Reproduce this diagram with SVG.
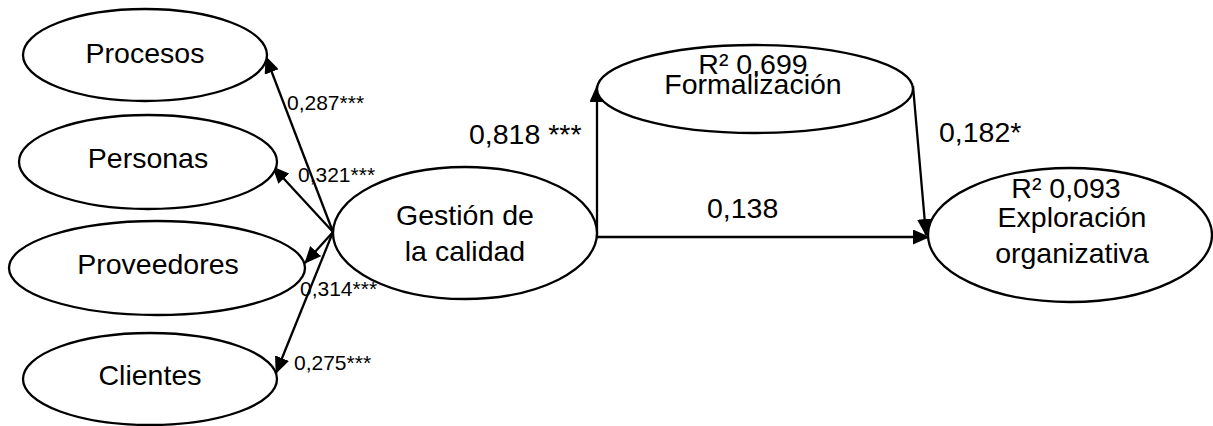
<svg xmlns="http://www.w3.org/2000/svg" width="1213" height="426" viewBox="0 0 1213 426">
  <defs>
    <style>
      .node ellipse { fill: #ffffff; stroke: #000000; stroke-width: 2.3; }
      .lbl { font-family: "Liberation Sans", Arial, sans-serif; font-size: 28.5px; fill: #000000; text-anchor: middle; }
      .coef { font-family: "Liberation Sans", Arial, sans-serif; font-size: 28.5px; fill: #000000; }
      .coef-s { font-family: "Liberation Sans", Arial, sans-serif; font-size: 21px; fill: #000000; }
      .edge { fill: none; stroke: #000000; stroke-width: 2.3; marker-end: url(#arrow); }
    </style>
    <marker id="arrow" markerUnits="userSpaceOnUse" markerWidth="17" markerHeight="15" viewBox="0 0 17 15" refX="16" refY="7.5" orient="auto">
      <path d="M0,0 L17,7.5 L0,15 Z" fill="#000000"/>
    </marker>
  </defs>

  <rect width="1213" height="426" fill="#ffffff"/>

  <!-- connectors -->
  <g id="connectors">
    <line class="edge" x1="333" y1="232" x2="266" y2="57"/>
    <line class="edge" x1="333" y1="232" x2="273" y2="167"/>
    <line class="edge" x1="333" y1="232" x2="305" y2="263"/>
    <line class="edge" x1="333" y1="232" x2="276" y2="373"/>
    <line class="edge" x1="597" y1="237" x2="597" y2="86"/>
    <line class="edge" x1="596" y1="237" x2="929" y2="237"/>
    <line class="edge" x1="913" y1="86" x2="926" y2="235"/>
  </g>

  <!-- indicator constructs -->
  <g id="procesos" class="node">
    <ellipse cx="145" cy="55" rx="122" ry="46"/>
    <text class="lbl" x="145" y="63">Procesos</text>
  </g>
  <g id="personas" class="node">
    <ellipse cx="148" cy="162" rx="129" ry="47"/>
    <text class="lbl" x="148" y="168">Personas</text>
  </g>
  <g id="proveedores" class="node">
    <ellipse cx="157" cy="268" rx="148" ry="47"/>
    <text class="lbl" x="158" y="274">Proveedores</text>
  </g>
  <g id="clientes" class="node">
    <ellipse cx="150" cy="379" rx="127" ry="46"/>
    <text class="lbl" x="150" y="385">Clientes</text>
  </g>

  <!-- quality management -->
  <g id="gestion" class="node">
    <ellipse cx="465" cy="233" rx="132" ry="66"/>
    <text class="lbl" x="465" y="225">Gestión de</text>
    <text class="lbl" x="465" y="261">la calidad</text>
  </g>

  <!-- formalization -->
  <g id="formalizacion" class="node">
    <ellipse cx="755" cy="89" rx="158" ry="44"/>
    <text class="lbl" x="753" y="74">R² 0,699</text>
    <text class="lbl" x="753" y="94">Formalización</text>
  </g>

  <!-- organizational exploration -->
  <g id="exploracion" class="node">
    <ellipse cx="1070" cy="235" rx="142" ry="67"/>
    <text class="lbl" x="1066" y="198">R² 0,093</text>
    <text class="lbl" x="1072" y="227">Exploración</text>
    <text class="lbl" x="1072" y="263">organizativa</text>
  </g>

  <!-- path coefficients -->
  <g id="coefficients">
    <text class="coef-s" x="287" y="110">0,287***</text>
    <text class="coef-s" x="298" y="182">0,321***</text>
    <text class="coef-s" x="300" y="296">0,314***</text>
    <text class="coef-s" x="294" y="370">0,275***</text>
    <text class="coef" x="469" y="144">0,818 ***</text>
    <text class="coef" x="707" y="218">0,138</text>
    <text class="coef" x="939" y="142">0,182*</text>
  </g>
</svg>
